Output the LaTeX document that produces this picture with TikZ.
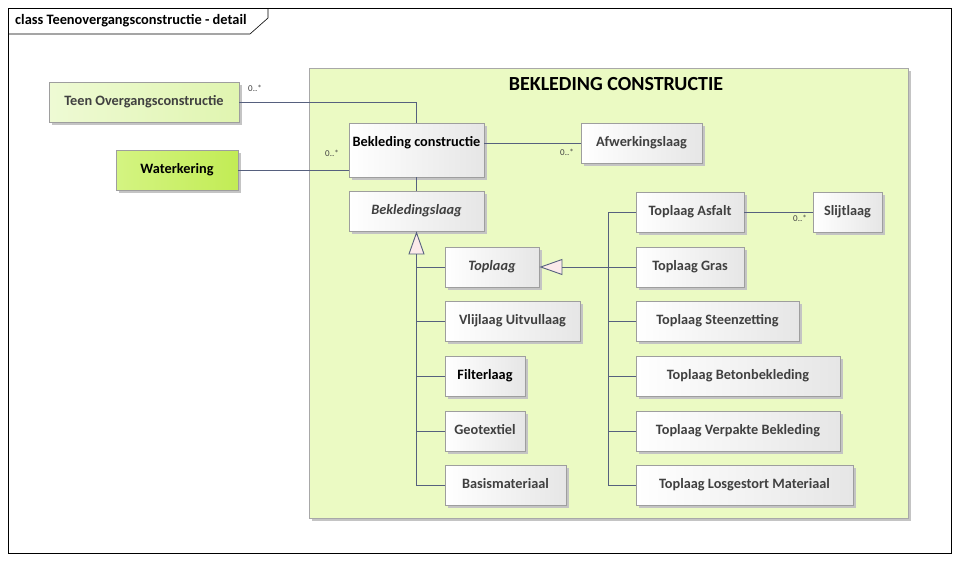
\documentclass[tikz,border=0pt]{standalone}
\usepackage{fontspec}
\setmainfont{Carlito}
\usetikzlibrary{arrows.meta,shadows,calc}
\definecolor{lineblue}{HTML}{56607E}
\definecolor{boxborder}{HTML}{9E9E9E}
\definecolor{boxgray}{HTML}{E6E6E6}
\definecolor{txt}{HTML}{404040}
\definecolor{pkgfill}{HTML}{EBFAC3}
\definecolor{pkgborder}{HTML}{A8A8A8}
\definecolor{shadowc}{HTML}{C4C4C4}
\definecolor{trifill}{HTML}{FBEAEA}
\definecolor{teenL}{HTML}{EEFAD4}
\definecolor{teenR}{HTML}{E0F5B0}
\definecolor{waterL}{HTML}{D4F482}
\definecolor{waterR}{HTML}{C2EC55}
\newcommand{\boxfont}{\bfseries\fontsize{14.3}{16}\selectfont}
\tikzset{
  umlbox/.style={draw=boxborder, line width=0.8pt, left color=white, right color=boxgray,
    text=txt, font=\boxfont, inner sep=0pt, text height=10pt, text depth=3pt,
    drop shadow={shadow xshift=3pt, shadow yshift=-3pt, fill=shadowc, opacity=1}},
  abstractbox/.style={umlbox, font=\boxfont\itshape},
  conn/.style={draw=lineblue, line width=0.9pt},
  gen/.style={conn, -{Triangle[length=23pt, width=16pt, fill=trifill, line width=0.9pt]}},
  mult/.style={text=txt, font=\fontsize{9}{10}\selectfont, inner sep=0pt},
}
\begin{document}
\begin{tikzpicture}[x=1pt,y=-1pt]
\useasboundingbox (0,0) rectangle (959,562);
% outer frame
\draw[black, line width=0.6pt, fill=white] (8,8) rectangle (951,553);
\draw[black, line width=0.6pt] (8,34) -- (250,34) -- (268,18) -- (268,8);
\node[anchor=west, inner sep=0pt, font=\bfseries\fontsize{14.4}{16}\selectfont] (title) at (15,21) {class Teenovergangsconstructie - detail};
% package
\draw[draw=pkgborder, line width=0.8pt, fill=pkgfill,
  drop shadow={shadow xshift=3pt, shadow yshift=-3pt, fill=shadowc, opacity=1}] (309,68) rectangle (908,518);
\node[inner sep=0pt, font=\bfseries\fontsize{20}{22}\selectfont] (pkgtitle) at (616,84) {BEKLEDING CONSTRUCTIE};
% outside nodes
\node[umlbox, left color=teenL, right color=teenR, minimum width=190, minimum height=40] (teen) at (144,102) {Teen Overgangsconstructie};
\node[umlbox, left color=waterL, right color=waterR, text=black, minimum width=122, minimum height=40] (water) at (177,170) {Waterkering};
% inside nodes
\node[umlbox, text=black, minimum width=135, minimum height=54, text depth=17pt] (bc) at (416.5,150) {Bekleding constructie};
\node[umlbox, minimum width=121, minimum height=40] (afw) at (641.5,143) {Afwerkingslaag};
\node[abstractbox, minimum width=135, minimum height=40] (bl) at (416.5,211) {Bekledingslaag};
\node[abstractbox, minimum width=94, minimum height=40] (top) at (492,267) {Toplaag};
\node[umlbox, minimum width=135, minimum height=40] (vlij) at (512.5,321) {Vlijlaag Uitvullaag};
\node[umlbox, text=black, minimum width=80, minimum height=40] (filter) at (485,376) {Filterlaag};
\node[umlbox, minimum width=80, minimum height=40] (geo) at (485,431) {Geotextiel};
\node[umlbox, minimum width=121, minimum height=40] (basis) at (505.5,485) {Basismateriaal};
\node[umlbox, minimum width=108, minimum height=40] (asf) at (690,212) {Toplaag Asfalt};
\node[umlbox, minimum width=69, minimum height=40] (slijt) at (847.5,212) {Slijtlaag};
\node[umlbox, minimum width=108, minimum height=40] (gras) at (690,267) {Toplaag Gras};
\node[umlbox, minimum width=163, minimum height=40] (steen) at (717.5,321) {Toplaag Steenzetting};
\node[umlbox, minimum width=204, minimum height=40] (beton) at (738,376) {Toplaag Betonbekleding};
\node[umlbox, minimum width=204, minimum height=40] (verp) at (738,431) {Toplaag Verpakte Bekleding};
\node[umlbox, minimum width=217, minimum height=40] (losg) at (744.5,485) {Toplaag Losgestort Materiaal};
% junction
\coordinate (tj) at (608,267);
% associations
\draw[conn] (teen.east) -| (bc.north);
\node[mult] (m1) at (255,88) {0..*};
\draw[conn] (water.east) -- (water.east -| bc.west);
\node[mult] (m2) at (332,153) {0..*};
\draw[conn] (bc.east |- afw.west) -- (afw.west);
\node[mult] (m3) at (567,152) {0..*};
\draw[conn] (bc.south) -- (bl.north);
\draw[conn] (asf.east) -- (slijt.west);
\node[mult] (m4) at (800,218) {0..*};
% generalizations to Bekledingslaag
\draw[gen] (basis.west) -| (bl.south);
\draw[conn] (top.west) -- (top.west -| bl.south);
\draw[conn] (vlij.west) -- (vlij.west -| bl.south);
\draw[conn] (filter.west) -- (filter.west -| bl.south);
\draw[conn] (geo.west) -- (geo.west -| bl.south);
% generalizations to Toplaag
\draw[gen] (losg.west) -| (tj) -- (top.east);
\draw[conn] (asf.west) -| (tj);
\draw[conn] (steen.west) -- (steen.west -| tj);
\draw[conn] (beton.west) -- (beton.west -| tj);
\draw[conn] (verp.west) -- (verp.west -| tj);
\draw[conn] (gras.west) -- (gras.west -| tj);
\end{tikzpicture}
\end{document}
